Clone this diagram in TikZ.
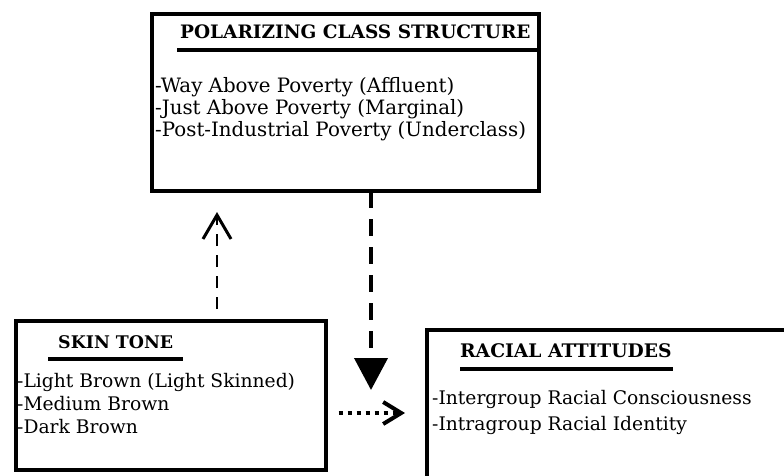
\documentclass[tikz,border=0pt]{standalone}
\usepackage{fontspec}
\setmainfont{DejaVu Serif}
\usetikzlibrary{arrows.meta}
\begin{document}
\begin{tikzpicture}[x=1pt,y=-1pt,
  box/.style={draw=black, line width=4pt, rectangle, anchor=north west, inner sep=0pt, outer sep=0pt},
  ttl/.style={anchor=base west, inner sep=0pt, font=\fontsize{#1}{20}\selectfont\bfseries},
  ttl/.default=18.5,
  itm/.style={anchor=base west, inner sep=0pt, font=\fontsize{#1}{22}\selectfont},
  itm/.default=18.7,
  uline/.style={line width=4pt},
]
\useasboundingbox (0,0) rectangle (784,475);
\clip (0,0) rectangle (784,475);
% boxes
\node[box, minimum width=387pt, minimum height=177pt] (pcs) at (152,14) {};
\node[box, minimum width=310pt, minimum height=149pt] (skin) at (15.5,321) {};
\node[box, minimum width=373pt, minimum height=170pt] (racial) at (427,330) {};
% top box text
\node[ttl=18.5] (pcsT) at (180,38) {POLARIZING CLASS STRUCTURE};
\draw[uline] (177,50) -- (538,50);
\node[itm=19.8] (pcs1) at (155,92) {-Way Above Poverty (Affluent)};
\node[itm=19.8] (pcs2) at (155,114) {-Just Above Poverty (Marginal)};
\node[itm=19.8] (pcs3) at (155,136) {-Post-Industrial Poverty (Underclass)};
% skin box text
\node[ttl=17.4] (skinT) at (58,348) {SKIN TONE};
\draw[uline] (48,359) -- (183,359);
\node[itm] (skin1) at (17,387) {-Light Brown (Light Skinned)};
\node[itm] (skin2) at (17,410) {-Medium Brown};
\node[itm] (skin3) at (17,433) {-Dark Brown};
% racial box text
\node[ttl=18.7] (racT) at (460,357) {RACIAL ATTITUDES};
\draw[uline] (460,369) -- (673,369);
\node[itm] (rac1) at (432,404) {-Intergroup Racial Consciousness};
\node[itm] (rac2) at (432,430) {-Intragroup Racial Identity};
% connectors
\coordinate (upT) at (217,212);
\coordinate (dnT) at (371,390);
\coordinate (dotY) at (0,413);
\draw[line width=1.5pt, dash pattern=on 12pt off 9pt, shorten <=12pt,
  -{Straight Barb[length=24pt,width=28pt,line width=3pt]}] (skin.north -| upT) -- (upT);
\draw[line width=4pt, dash pattern=on 17pt off 11pt,
  -{Triangle[length=32pt,width=33pt]}] (pcs.south -| dnT) -- (dnT);
\draw[line width=4pt, dash pattern=on 4pt off 5pt, shorten <=13pt, shorten >=22pt,
  -{Straight Barb[length=18pt,width=22pt,line width=4pt]}] (skin.east |- dotY) -- (racial.west |- dotY);
\end{tikzpicture}
\end{document}
